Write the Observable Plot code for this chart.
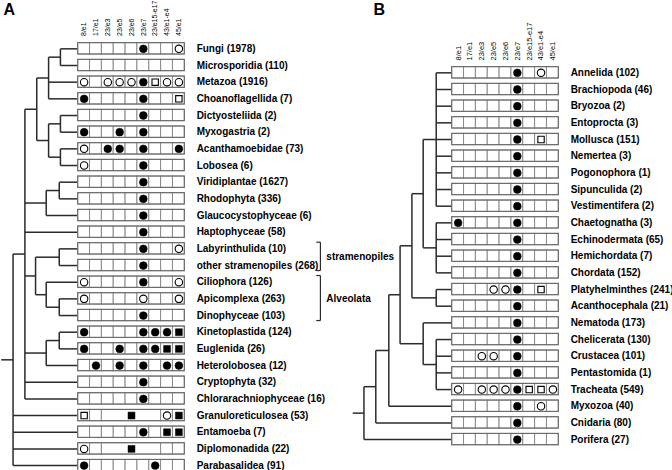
<!DOCTYPE html>
<html><head><meta charset="utf-8">
<script src="https://cdn.jsdelivr.net/npm/d3@7"></script>
<script src="https://cdn.jsdelivr.net/npm/@observablehq/plot@0.6"></script>
<style>
body{margin:0;background:#fff;}
#wrap{position:relative;width:672px;height:470px;overflow:hidden;background:#fff;}
#wrap svg{position:absolute;left:0;top:0;}
</style></head><body><div id="wrap"></div>
<script>
// ---------- data ----------
const columns = ["8/e1","17/e1","23/e3","23/e5","23/e6","23/e7","23/e15-e17","43/e1-e4","45/e1"];

// Panel A
const taxaA = ["Fungi","Microsporidia","Metazoa","Choanoflagellida","Dictyosteliida","Myxogastria","Acanthamoebidae","Lobosea","Viridiplantae","Rhodophyta","Glaucocystophyceae","Haptophyceae","Labyrinthulida","other stramenopiles","Ciliophora","Apicomplexa","Dinophyceae","Kinetoplastida","Euglenida","Heterolobosea","Cryptophyta","Chlorarachniophyceae","Granuloreticulosea","Entamoeba","Diplomonadida","Parabasalidea"];
const countsA = [1978,110,1916,7,2,2,73,6,1627,336,6,58,10,268,126,263,103,124,26,12,32,16,53,7,22,91];
// per column: F filled circle, O open circle, S filled square, Q open square, . none
const intronsA = [".....F..O",".........","O.OOOFQOO","F....F..Q",".....F...","F..F.F...","O.FF.F..F","O....F...",".....F...",".....F...",".....F...",".....F...",".....F..O",".....F...","O....F..O","O....O..O",".....F...","F....FFFS","F..F.FFSS",".F.F.F.FF",".....F...",".....F...","Q...S..OS",".....F.SS","O...S....","F.....F.."];
const mergedA = {"Granuloreticulosea":[2,7],"Diplomonadida":[2,7]};
const treeA = "(((((Fungi,Microsporidia)1.5,Metazoa,Choanoflagellida)2.5,((Dictyosteliida,Myxogastria)1.5,(Acanthamoebidae,Lobosea)1.5)2.5)3.5,((Viridiplantae,Rhodophyta)1.6,Glaucocystophyceae)2.7,Haptophyceae,((Labyrinthulida,other stramenopiles)1.6,(Ciliophora,(Apicomplexa,Dinophyceae)1.6)2.7)3.6,((Kinetoplastida,Euglenida)1.6,Heterolobosea)2.7,Cryptophyta,Chlorarachniophyceae)4.5,Granuloreticulosea,Entamoeba,Diplomonadida,Parabasalidea)5.5";
const bracketsA = [{label:"stramenopiles", from:12, to:13}, {label:"Alveolata", from:14, to:16}];

// Panel B
const taxaB = ["Annelida","Brachiopoda","Bryozoa","Entoprocta","Mollusca","Nemertea","Pogonophora","Sipunculida","Vestimentifera","Chaetognatha","Echinodermata","Hemichordata","Chordata","Platyhelminthes","Acanthocephala","Nematoda","Chelicerata","Crustacea","Pentastomida","Tracheata","Myxozoa","Cnidaria","Porifera"];
const countsB = [102,46,2,3,151,3,1,2,2,3,65,7,152,241,21,173,130,101,1,549,40,80,27];
const intronsB = [".....F.O.",".....F...",".....F...",".....F...",".....F.Q.",".....F...",".....F...",".....F...",".....F...","F....F...",".....F...",".....F...",".....F...","...OOF.Q.",".....F...",".....F...",".....F...","..OO.F...",".....F...","O.OOOFQQO",".....F.O.",".....F...",".....F..."];
const mergedB = {};
const treeB = "(((((((Annelida,Brachiopoda,Bryozoa,Entoprocta,Mollusca,Nemertea,Pogonophora,Sipunculida,Vestimentifera)1.35,(Chaetognatha,Echinodermata,Hemichordata,Chordata)1.35)2.45,(Platyhelminthes,Acanthocephala)1.35)3.4,(Nematoda,(Chelicerata,Crustacea,Pentastomida,Tracheata)1.35)2.45)4.4,Myxozoa)5.35,Cnidaria)6.45,Porifera)7.45";
const bracketsB = [];

// ---------- helpers ----------
function parseNewick(s){
  let i = 0;
  function node(){
    if (s[i] === "("){
      i++;
      const children = [node()];
      while (s[i] === ","){ i++; children.push(node()); }
      i++;
      let num = "";
      while (i < s.length && /[0-9.]/.test(s[i])) num += s[i++];
      return {children, depth: +num};
    }
    let name = "";
    while (i < s.length && !",()".includes(s[i])) name += s[i++];
    return {name: name.trim()};
  }
  return node();
}
function treeLinks(tree, taxa, stub){
  const links = [];
  (function walk(n){
    if (!n.children){ n.y = taxa.indexOf(n.name); n.x = 0; return; }
    n.children.forEach(walk);
    n.x = -n.depth;
    const ys = n.children.map(c => c.y);
    const lo = d3.min(ys), hi = d3.max(ys);
    n.y = (lo + hi) / 2;
    links.push({x1: n.x, y1: lo, x2: n.x, y2: hi});
    n.children.forEach(c => links.push({x1: n.x, y1: c.y, x2: c.x, y2: c.y}));
  })(tree);
  links.push({x1: -stub, y1: tree.y, x2: tree.x, y2: tree.y});
  return links;
}

const FONT = "Arial, 'Liberation Sans', Helvetica, sans-serif";

function panel(o){
  const tree = parseNewick(o.tree);
  const links = treeLinks(tree, o.taxa, o.stub);
  const cells = [], rows = [];
  o.taxa.forEach((t, i) => {
    const m = o.merged[t];
    let c = 0;
    while (c < 9){
      if (m && c === m[0]){ cells.push({x1: m[0], x2: m[1], y: i}); c = m[1]; }
      else { cells.push({x1: c, x2: c + 1, y: i}); c++; }
    }
    rows.push({y: i});
  });
  const syms = [];
  o.introns.forEach((s, i) => [...s].forEach((ch, c) => { if (ch !== ".") syms.push({x: c + 0.5, y: i, k: ch}); }));
  const H = 0.34;
  const bl = [];
  o.brackets.forEach(b => {
    bl.push({x1: 20.45, y1: b.from - 0.4, x2: 20.45, y2: b.to + 0.3});
    bl.push({x1: 20.1, y1: b.from - 0.4, x2: 20.45, y2: b.from - 0.4});
    bl.push({x1: 20.1, y1: b.to + 0.3, x2: 20.45, y2: b.to + 0.3});
  });
  return Plot.plot({
    width: 672, height: 470, margin: 0,
    x: {domain: [0, 9], range: o.xRange, axis: null},
    y: {domain: [-0.5, o.taxa.length - 0.5], range: o.yRange, axis: null},
    style: {background: "transparent", fontFamily: FONT, overflow: "visible"},
    marks: [
      Plot.link(links, {x1: "x1", y1: "y1", x2: "x2", y2: "y2", stroke: "#2b2b2b", strokeWidth: 1.5}),
      Plot.rect(cells, {x1: "x1", x2: "x2", y1: d => d.y - H, y2: d => d.y + H, fill: "white", stroke: "#8a8a8a", strokeWidth: 1}),
      Plot.rect(rows, {x1: 0, x2: 9, y1: d => d.y - H, y2: d => d.y + H, fill: "none", stroke: "#666", strokeWidth: 1}),
      Plot.dot(syms.filter(d => d.k === "F"), {x: "x", y: "y", r: 3.9, fill: "black", stroke: "black", strokeWidth: 0.5, symbol: "circle"}),
      Plot.dot(syms.filter(d => d.k === "O"), {x: "x", y: "y", r: 3.7, fill: "white", stroke: "black", strokeWidth: 1.1, symbol: "circle"}),
      Plot.dot(syms.filter(d => d.k === "S"), {x: "x", y: "y", r: 3.9, fill: "black", stroke: "black", strokeWidth: 0.5, symbol: "square"}),
      Plot.dot(syms.filter(d => d.k === "Q"), {x: "x", y: "y", r: 3.6, fill: "white", stroke: "black", strokeWidth: 1.1, symbol: "square"}),
      Plot.text(o.taxa, {x: 10, y: (d, i) => i, text: (d, i) => `${d} (${o.counts[i]})`, textAnchor: "start", fontWeight: "bold", fontSize: 10, fill: "black"}),
      Plot.text(columns, {x: (d, i) => i + 0.5, y: -0.5, dy: o.headerDy, text: d => d, rotate: -90, textAnchor: "start", fontSize: o.headerSize, fill: "black"}),
      Plot.link(bl, {x1: "x1", y1: "y1", x2: "x2", y2: "y2", stroke: "#2b2b2b", strokeWidth: 1.2}),
      Plot.text(o.brackets, {x: 20.95, y: d => (d.from + d.to) / 2, text: "label", textAnchor: "start", fontWeight: "bold", fontSize: 10, fill: "black"}),
      Plot.text([o.letter], {frameAnchor: "top-left", dx: o.letterX, dy: 3, lineAnchor: "top", text: d => d, fontWeight: "bold", fontSize: 16, textAnchor: "start", fill: "black"})
    ]
  });
}

const wrap = document.getElementById("wrap");
wrap.append(panel({taxa: taxaA, counts: countsA, introns: intronsA, merged: mergedA, tree: treeA, stub: 6.5,
  xRange: [77.7, 184.3], yRange: [40, 473.4], headerDy: -4.5, headerSize: 7, brackets: bracketsA, letter: "A", letterX: 3}));
wrap.append(panel({taxa: taxaB, counts: countsB, introns: intronsB, merged: mergedB, tree: treeB, stub: 8.4,
  xRange: [451.7, 558.3], yRange: [64, 447.4], headerDy: -4, headerSize: 7.5, brackets: bracketsB, letter: "B", letterX: 373}));
</script>
</body></html>
